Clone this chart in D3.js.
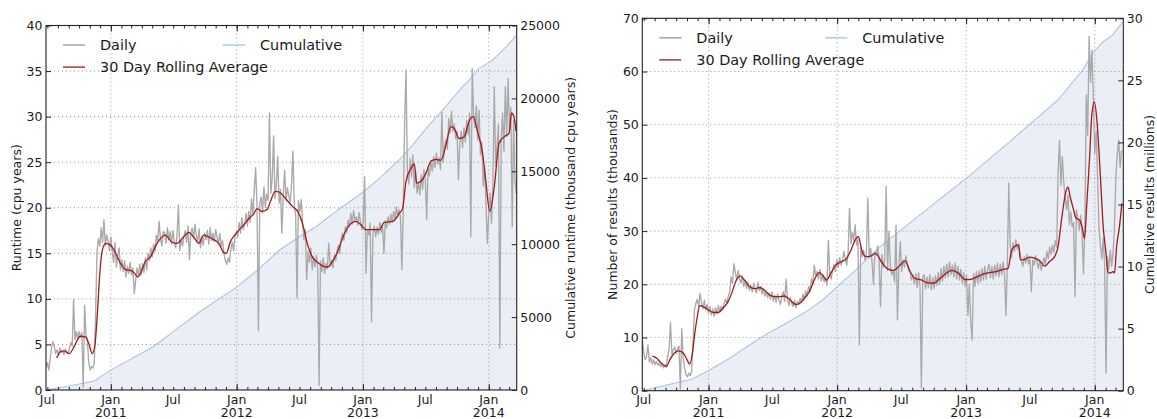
<!DOCTYPE html>
<html>
<head>
<meta charset="utf-8">
<script src="https://cdn.jsdelivr.net/npm/d3@7/dist/d3.min.js"></script>
<style>
  html, body { margin: 0; padding: 0; background: #ffffff; }
  svg { display: block; }
</style>
</head>
<body>
<svg id="chart" width="1157" height="419"></svg>
<script>
// ---- Time base: every day index below counts days from seriesStart ----
const seriesStart = new Date(Date.UTC(2010, 5, 27));
const seriesEnd = new Date(Date.UTC(2014, 2, 23));
const dailyStepDays = 4;   // one daily sample every 4 days

// ---- Runtime (cpu years per day) ----
const runtimeDaily = [
  2.5, 3.0, 2.2, 3.4, 4.6, 5.3, 4.8, 4.0, 4.4, 3.8,
  4.6, 4.1, 4.3, 3.9, 4.5, 4.2, 4.0, 4.6, 5.2, 4.8,
  9.9, 5.5, 6.4, 5.6, 6.4, 5.8, 6.3, 0.3, 9.3, 6.0,
  5.4, 3.0, 2.2, 2.6, 2.4, 2.9, 8.5, 15.2, 16.6, 15.8,
  17.8, 16.2, 18.7, 15.8, 17.0, 16.4, 15.3, 16.8, 15.2, 14.0,
  16.2, 13.5, 14.8, 15.6, 13.2, 14.3, 13.0, 14.2, 12.4, 13.6,
  12.8, 14.0, 12.6, 13.4, 10.6, 12.0, 13.4, 12.5, 13.8, 12.6,
  13.9, 12.9, 14.5, 13.2, 15.0, 14.2, 15.6, 14.6, 16.0, 15.2,
  17.0, 16.3, 18.5, 16.6, 15.8, 17.4, 17.2, 16.1, 17.8, 16.5,
  17.4, 16.0, 17.5, 16.2, 15.6, 17.0, 20.3, 15.3, 16.5, 15.8,
  16.9, 17.5, 16.2, 18.0, 14.3, 17.2, 17.8, 16.6, 18.2, 17.0,
  16.2, 17.7, 15.6, 16.8, 15.9, 17.2, 16.5, 17.5, 16.0, 17.8,
  16.4, 17.2, 16.3, 17.6, 16.8, 16.0, 17.2, 15.8, 16.4, 15.0,
  14.2, 13.8, 14.5, 14.0, 15.4, 16.2, 15.3, 16.8, 17.4, 16.8,
  18.4, 17.2, 18.9, 17.6, 18.2, 19.4, 18.0, 19.6, 18.4, 21.0,
  19.2, 22.0, 24.4, 20.1, 6.5, 20.5, 21.2, 19.4, 22.3, 20.0,
  21.5, 20.8, 30.4, 21.6, 23.2, 27.9, 21.0, 22.6, 25.6, 20.5,
  22.0, 17.2, 21.4, 24.1, 20.8, 22.2, 21.3, 20.6, 22.4, 26.2,
  20.4, 19.2, 10.1, 20.8, 19.6, 20.9, 18.4, 16.5, 17.6, 12.1,
  15.2, 14.0, 15.6, 13.2, 14.6, 13.5, 14.8, 13.4, 0.5, 14.2,
  13.0, 14.5, 12.8, 13.9, 13.3, 16.1, 13.6, 14.2, 13.4, 14.8,
  14.2, 15.3, 15.9, 15.0, 16.6, 17.2, 16.4, 17.9, 17.3, 18.6,
  18.0, 19.4, 18.2, 19.7, 18.6, 19.0, 18.1, 19.5, 18.4, 17.6,
  18.5, 23.4, 12.8, 17.6, 17.0, 18.3, 7.5, 17.2, 18.0, 16.8,
  17.9, 17.1, 18.4, 17.3, 18.0, 15.0, 18.6, 17.8, 19.0, 18.2,
  19.3, 18.4, 19.6, 18.8, 20.1, 19.0, 19.8, 18.9, 13.2, 19.6,
  29.3, 35.1, 24.0, 22.6, 25.4, 23.4, 25.8, 22.2, 24.0, 21.6,
  22.8, 21.4, 23.6, 22.0, 24.2, 23.0, 18.7, 24.4, 23.5, 25.2,
  24.0, 25.6, 24.4, 26.0, 24.8, 25.5, 24.2, 30.5, 25.0, 26.8,
  27.5, 26.4, 29.8, 28.2, 30.6, 28.4, 29.2, 27.6, 28.4, 23.1,
  27.0, 28.4, 26.6, 28.8, 27.2, 29.6, 28.0, 30.4, 16.8, 35.3,
  30.2, 28.8, 31.2, 27.4, 30.7, 25.8, 27.2, 22.4, 24.6, 20.2,
  16.1, 19.4, 21.6, 18.3, 22.8, 33.3, 24.6, 26.8, 29.2, 4.6,
  27.4, 30.4, 26.2, 33.3, 27.8, 34.2, 28.4, 31.0, 17.9, 29.6,
  23.0, 21.5
];
const runtimeAvgDay = [
  31, 42, 52, 67, 81, 91, 100, 115, 124, 134,
  141, 149, 156, 163, 173, 187, 202, 216, 231, 247,
  257, 266, 274, 288, 303, 322, 346, 366, 380, 399,
  414, 428, 443, 457, 472, 486, 501, 515, 523, 534,
  554, 573, 588, 602, 612, 626, 641, 650, 665, 677,
  697, 716, 730, 745, 759, 774, 788, 803, 817, 832,
  846, 861, 880, 899, 914, 928, 947, 967, 981, 1005,
  1025, 1034, 1044, 1058, 1068, 1075, 1087, 1102, 1116, 1131,
  1145, 1160, 1174, 1184, 1198, 1213, 1227, 1239, 1251, 1266,
  1275, 1287, 1300, 1314, 1329, 1343, 1350, 1357, 1363
];
const runtimeAvg = [
  3.5, 4.2, 4.3, 4.0, 4.7, 5.5, 5.9, 5.8, 5.1, 4.0,
  4.7, 8.4, 12.8, 15.3, 16.1, 15.9, 15.0, 13.9, 13.2, 13.1,
  12.8, 12.4, 12.8, 14.1, 14.6, 16.1, 17.0, 16.2, 16.1, 16.8,
  17.3, 16.8, 16.1, 17.0, 16.8, 16.5, 16.1, 15.1, 15.0, 16.2,
  17.3, 18.1, 18.8, 19.3, 19.9, 19.6, 19.8, 20.6, 21.8, 21.7,
  20.9, 20.1, 19.6, 18.1, 15.9, 14.5, 14.0, 13.6, 13.5, 14.2,
  15.2, 16.8, 18.1, 18.5, 18.1, 17.6, 17.6, 17.6, 18.4, 18.5,
  19.4, 19.9, 22.9, 24.3, 24.8, 22.7, 22.9, 23.8, 25.1, 25.3,
  25.2, 26.9, 28.9, 28.7, 27.6, 27.8, 29.5, 30.0, 28.4, 26.0,
  23.1, 19.6, 22.3, 27.1, 27.8, 28.2, 30.4, 30.0, 28.4
];
const runtimeCumDay = [
  0, 40, 92, 140, 185, 311, 369, 446, 552, 619,
  677, 735, 783, 846, 918, 967, 1034, 1063, 1111, 1150,
  1208, 1227, 1256, 1280, 1295, 1324, 1353, 1363
];
const runtimeCum = [
  0, 160, 400, 620, 1330, 2970, 4000, 5370, 7040, 8340,
  9600, 10510, 11200, 12350, 13550, 14520, 16000, 16800, 18180, 19200,
  20800, 21260, 22060, 22400, 22630, 23300, 24000, 24350
];

// ---- Results (thousands per day, cumulative in millions) ----
const resultsDaily = [
  9.6, 7.2, 5.8, 6.4, 8.6, 5.4, 6.2, 5.0, 5.8, 4.9,
  5.5, 4.8, 5.2, 4.5, 5.0, 4.3, 4.8, 4.4, 6.5, 7.8,
  12.8, 6.8, 7.6, 8.2, 7.0, 7.9, 8.4, 0.3, 11.7, 6.2,
  4.2, 3.0, 2.6, 3.3, 2.8, 3.6, 9.0, 15.2, 16.4, 17.2,
  15.8, 18.3, 16.6, 15.4, 17.0, 15.2, 16.2, 14.6, 15.8, 14.2,
  15.4, 14.0, 15.6, 14.4, 16.0, 14.8, 15.9, 15.2, 16.4, 17.2,
  16.4, 17.8, 18.6, 21.4, 20.2, 23.9, 22.2, 20.8, 22.6, 21.0,
  20.2, 21.5, 19.6, 20.6, 19.2, 20.4, 18.8, 19.8, 18.6, 20.2,
  19.0, 18.4, 20.4, 18.8, 19.6, 18.2, 19.1, 17.8, 18.6, 17.5,
  18.4, 17.2, 18.6, 16.8, 17.9, 16.6, 18.2, 17.0, 16.2, 17.8,
  18.6, 16.8, 21.0, 17.2, 16.0, 17.6, 16.4, 15.8, 17.0, 15.6,
  16.8, 16.2, 17.4, 16.6, 18.2, 17.0, 18.8, 17.8, 19.6, 18.6,
  21.0, 20.0, 23.6, 21.6, 22.4, 21.0, 22.8, 20.6, 21.8, 20.4,
  21.2, 19.8, 28.3, 22.0, 21.0, 22.6, 23.8, 22.4, 24.6, 23.2,
  25.0, 23.6, 24.4, 26.2, 24.8, 23.6, 25.8, 34.3, 27.6, 29.8,
  28.2, 31.2, 27.4, 28.6, 8.6, 27.0, 25.2, 26.4, 24.6, 25.8,
  36.2, 25.0, 26.8, 24.2, 20.0, 26.0, 25.4, 27.2, 24.6, 15.8,
  25.6, 23.2, 24.8, 38.4, 22.6, 30.0, 23.4, 21.8, 22.6, 20.4,
  31.1, 13.3, 23.0, 28.0, 22.4, 24.6, 23.2, 25.4, 23.8, 22.6,
  22.4, 20.8, 21.8, 20.0, 22.0, 19.4, 22.2, 19.8, 0.5, 21.4,
  21.8, 19.2, 21.4, 19.4, 21.8, 19.0, 21.2, 19.2, 21.6, 19.8,
  22.2, 20.0, 23.0, 20.6, 23.4, 21.2, 23.8, 21.4, 24.2, 21.8,
  23.6, 21.4, 24.0, 21.0, 23.4, 20.8, 22.8, 20.2, 22.2, 19.6,
  21.8, 14.2, 20.0, 13.0, 9.5, 22.0, 19.6, 22.4, 20.2, 22.6,
  20.4, 23.0, 20.8, 23.4, 21.0, 22.8, 23.8, 21.2, 23.4, 21.0,
  23.6, 21.6, 24.0, 21.4, 23.8, 21.8, 24.2, 22.0, 14.2, 24.0,
  39.0, 27.6, 25.0, 27.8, 26.2, 28.4, 26.6, 27.6, 25.8, 24.4,
  23.4, 25.2, 24.0, 25.6, 23.8, 25.0, 18.6, 24.6, 23.6, 25.4,
  24.2, 23.0, 24.6, 22.6, 23.8, 25.0, 23.6, 26.2, 24.8, 27.0,
  25.6, 27.4, 26.0, 28.2, 27.0, 41.0, 47.1, 38.6, 44.0, 39.2,
  36.4, 34.0, 36.8, 31.2, 33.6, 30.8, 31.6, 17.7, 34.0, 32.4,
  30.2, 33.0, 29.4, 22.0, 31.6, 55.6, 48.0, 66.6, 58.0, 64.0,
  55.0, 44.6, 48.8, 40.2, 30.6, 27.4, 24.8, 28.6, 23.6, 3.3,
  25.2, 22.8, 26.4, 23.4, 25.8, 31.0, 40.2, 44.6, 47.1, 42.0,
  45.2
];
const resultsAvgDay = [
  29, 41, 52, 69, 78, 90, 102, 116, 125, 135,
  142, 149, 156, 163, 173, 187, 201, 215, 229, 243,
  253, 267, 278, 290, 304, 319, 333, 347, 361, 375,
  389, 403, 417, 436, 446, 460, 474, 488, 502, 512,
  523, 535, 549, 563, 578, 592, 604, 613, 623, 634,
  648, 662, 680, 694, 713, 727, 746, 760, 774, 793,
  807, 826, 840, 859, 878, 897, 916, 930, 949, 967,
  986, 1005, 1024, 1038, 1048, 1057, 1068, 1073, 1085, 1099,
  1113, 1128, 1142, 1156, 1170, 1179, 1192, 1201, 1208, 1214,
  1224, 1231, 1241, 1248, 1255, 1261, 1269, 1276, 1283, 1290,
  1299, 1308, 1316, 1321, 1327, 1337, 1340, 1346, 1354, 1361
];
const resultsAvg = [
  6.5, 6.1, 5.3, 4.6, 5.8, 7.0, 7.5, 7.1, 6.1, 5.0,
  7.0, 10.8, 13.9, 16.0, 15.8, 15.2, 14.7, 14.7, 15.5, 16.7,
  18.2, 20.8, 21.6, 20.8, 19.6, 19.2, 19.4, 18.9, 18.0, 17.7,
  17.7, 17.8, 17.2, 16.2, 16.4, 17.4, 18.6, 20.8, 22.2, 21.7,
  20.8, 22.1, 23.6, 24.2, 24.7, 26.4, 28.3, 29.0, 26.4, 25.2,
  25.3, 25.8, 24.1, 23.0, 22.6, 23.3, 24.4, 22.4, 21.1, 20.8,
  20.3, 20.2, 20.8, 21.9, 22.6, 22.1, 20.9, 20.9, 21.4, 21.9,
  22.2, 22.4, 22.8, 23.0, 26.4, 27.1, 27.4, 24.6, 24.7, 25.1,
  24.9, 24.4, 23.4, 24.3, 25.2, 26.8, 33.3, 37.1, 38.3, 36.5,
  34.0, 32.4, 32.1, 30.8, 28.6, 34.6, 43.4, 52.1, 54.3, 50.9,
  41.5, 30.8, 25.8, 22.4, 22.1, 22.4, 22.1, 27.1, 30.8, 35.2
];
const resultsCumDay = [
  0, 69, 140, 182, 248, 333, 399, 465, 512, 559,
  606, 644, 668, 788, 916, 1043, 1179, 1250, 1278, 1307,
  1335, 1363
];
const resultsCum = [
  0, 0.46, 0.92, 1.53, 2.61, 4.22, 5.29, 6.37, 7.31, 8.52,
  9.73, 10.8, 11.45, 14.16, 17.03, 20.07, 23.4, 25.84, 27.19, 28.1,
  28.66, 29.7
];

// ---- Legend entries ----
const legendLabels = { daily: "Daily", avg: "30 Day Rolling Average", cum: "Cumulative" };

// ---- Styling ----
const FONT = "'DejaVu Sans', 'Liberation Sans', sans-serif";
const TEXT_COLOR = "#1a1a1a";
const COLOR_DAILY = "#a9a9a9";
const COLOR_AVG = "#a3181c";
const COLOR_CUM = "#a9c4e4";
const COLOR_FILL = "#ebeff5";

const svg = d3.select("#chart");
const dayToDate = d => new Date(seriesStart.getTime() + d * 86400000);

function styleTicks(g) {
  g.attr("font-family", null).attr("font-size", null).attr("color", TEXT_COLOR);
  g.selectAll("text")
    .attr("font-family", FONT)
    .attr("font-size", 12.5)
    .attr("fill", TEXT_COLOR);
  g.selectAll("line").attr("stroke", "#222").attr("stroke-width", 1);
  g.select(".domain").remove();
}

function drawPanel(p, idx) {
  const x = d3.scaleUtc().domain([seriesStart, seriesEnd]).range([p.left, p.right]);
  const y = d3.scaleLinear().domain([0, p.yMax]).range([p.bottom, p.top]);
  const y2 = d3.scaleLinear().domain([0, p.y2Max]).range([p.bottom, p.top]);

  const root = svg.append("g");
  const clipId = "plot-clip-" + idx;
  root.append("clipPath").attr("id", clipId)
    .append("rect")
    .attr("x", p.left).attr("y", p.top)
    .attr("width", p.right - p.left).attr("height", p.bottom - p.top);

  const plot = root.append("g").attr("clip-path", `url(#${clipId})`);

  const cumPts = p.cumDay.map((d, i) => ({ date: dayToDate(d), v: p.cum[i] }));
  const dailyPts = p.daily.map((v, i) => ({ date: dayToDate(i * dailyStepDays), v }));
  const avgPts = p.avgDay.map((d, i) => ({ date: dayToDate(d), v: p.avg[i] }));

  // cumulative shaded area (right axis)
  plot.append("path").datum(cumPts)
    .attr("fill", COLOR_FILL)
    .attr("d", d3.area().x(d => x(d.date)).y0(y2(0)).y1(d => y2(d.v)));

  // grid
  const months = d3.utcMonth.range(d3.utcMonth.ceil(seriesStart), seriesEnd);
  const years = months.filter(m => m.getUTCMonth() === 0);
  const yTicks = d3.range(0, p.yMax + 1e-9, p.yStep);
  const y2Ticks = d3.range(0, p.y2Max + 1e-9, p.y2Step);

  const grid = plot.append("g")
    .attr("stroke", "#7a7a7a").attr("stroke-width", 0.8)
    .attr("stroke-dasharray", "1,3");
  grid.selectAll("line.h").data(yTicks).join("line").attr("class", "h")
    .attr("x1", p.left).attr("x2", p.right)
    .attr("y1", d => y(d)).attr("y2", d => y(d));
  grid.selectAll("line.v").data(years).join("line").attr("class", "v")
    .attr("x1", d => x(d)).attr("x2", d => x(d))
    .attr("y1", p.top).attr("y2", p.bottom);

  // cumulative line
  plot.append("path").datum(cumPts)
    .attr("fill", "none").attr("stroke", COLOR_CUM).attr("stroke-width", 1.1)
    .attr("d", d3.line().x(d => x(d.date)).y(d => y2(d.v)));

  // daily line
  plot.append("path").datum(dailyPts)
    .attr("fill", "none").attr("stroke", COLOR_DAILY).attr("stroke-width", 1.35)
    .attr("stroke-linejoin", "round")
    .attr("d", d3.line().x(d => x(d.date)).y(d => y(d.v)));

  // rolling average
  plot.append("path").datum(avgPts)
    .attr("fill", "none").attr("stroke", COLOR_AVG).attr("stroke-width", 1.3)
    .attr("stroke-linejoin", "round")
    .attr("d", d3.line().curve(d3.curveMonotoneX).x(d => x(d.date)).y(d => y(d.v)));

  // axes: ticks point inward
  root.append("g").attr("transform", `translate(0,${p.bottom})`)
    .call(d3.axisBottom(x).tickValues(months).tickSizeInner(-3).tickSizeOuter(0).tickFormat(() => ""))
    .call(styleTicks);
  root.append("g").attr("transform", `translate(0,${p.bottom})`)
    .call(d3.axisBottom(x).tickValues(years).tickSizeInner(-6).tickSizeOuter(0).tickFormat(() => ""))
    .call(styleTicks);
  root.append("g").attr("transform", `translate(0,${p.top})`)
    .call(d3.axisTop(x).tickValues(months).tickSizeInner(-3).tickSizeOuter(0).tickFormat(() => ""))
    .call(styleTicks);
  root.append("g").attr("transform", `translate(0,${p.top})`)
    .call(d3.axisTop(x).tickValues(years).tickSizeInner(-6).tickSizeOuter(0).tickFormat(() => ""))
    .call(styleTicks);

  root.append("g").attr("transform", `translate(${p.left},0)`)
    .call(d3.axisLeft(y).tickValues(yTicks).tickSizeInner(-5).tickSizeOuter(0).tickPadding(3.5).tickFormat(d3.format("d")))
    .call(styleTicks);
  root.append("g").attr("transform", `translate(${p.right},0)`)
    .call(d3.axisRight(y2).tickValues(y2Ticks).tickSizeInner(-5).tickSizeOuter(0).tickPadding(3.5).tickFormat(d3.format("d")))
    .call(styleTicks);

  // month / year labels
  const labelMonths = months.filter(m => m.getUTCMonth() === 6 || m.getUTCMonth() === 0);
  const xl = root.append("g").attr("font-family", FONT).attr("font-size", 12.5)
    .attr("fill", TEXT_COLOR).attr("text-anchor", "middle");
  labelMonths.forEach(m => {
    xl.append("text").attr("x", x(m)).attr("y", 403.6)
      .text(m.getUTCMonth() === 0 ? "Jan" : "Jul");
    if (m.getUTCMonth() === 0) {
      xl.append("text").attr("x", x(m)).attr("y", 417)
        .text(String(m.getUTCFullYear()));
    }
  });

  // frame
  root.append("rect")
    .attr("x", p.left).attr("y", p.top)
    .attr("width", p.right - p.left).attr("height", p.bottom - p.top)
    .attr("fill", "none").attr("stroke", "#222").attr("stroke-width", 1.1);

  // axis titles
  const midY = (p.top + p.bottom) / 2;
  root.append("text")
    .attr("transform", `translate(${p.yLabelX},${midY}) rotate(-90)`)
    .attr("text-anchor", "middle").attr("font-family", FONT).attr("font-size", 12.5)
    .attr("fill", TEXT_COLOR).text(p.yLabel);
  root.append("text")
    .attr("transform", `translate(${p.y2LabelX},${midY}) rotate(-90)`)
    .attr("text-anchor", "middle").attr("font-family", FONT).attr("font-size", 12.5)
    .attr("fill", TEXT_COLOR).text(p.y2Label);

  // legend (two columns, no frame)
  const lg = root.append("g").attr("font-family", FONT).attr("font-size", 14.4).attr("fill", TEXT_COLOR);
  const row1 = p.top + 19.5, row2 = p.top + 41.6;
  const entries = [
    { key: "daily", color: COLOR_DAILY, x: p.left + 17, y: row1, w: 1.6 },
    { key: "avg", color: COLOR_AVG, x: p.left + 17, y: row2, w: 1.3 },
    { key: "cum", color: COLOR_CUM, x: p.left + p.legendCol2, y: row1, w: 1.4 }
  ];
  entries.forEach(e => {
    lg.append("line").attr("x1", e.x).attr("x2", e.x + 22)
      .attr("y1", e.y).attr("y2", e.y)
      .attr("stroke", e.color).attr("stroke-width", e.w);
    lg.append("text").attr("x", e.x + 37).attr("y", e.y + 5.3).text(legendLabels[e.key]);
  });
}

const panels = [
  {
    left: 46, right: 516.7, top: 25.5, bottom: 390,
    daily: runtimeDaily, avgDay: runtimeAvgDay, avg: runtimeAvg,
    cumDay: runtimeCumDay, cum: runtimeCum,
    yMax: 40, yStep: 5, y2Max: 25000, y2Step: 5000,
    yLabel: "Runtime (cpu years)", y2Label: "Cumulative runtime (thousand cpu years)",
    yLabelX: 20.5, y2LabelX: 575, legendCol2: 177
  },
  {
    left: 642.3, right: 1123.3, top: 18.3, bottom: 390.7,
    daily: resultsDaily, avgDay: resultsAvgDay, avg: resultsAvg,
    cumDay: resultsCumDay, cum: resultsCum,
    yMax: 70, yStep: 10, y2Max: 30, y2Step: 5,
    yLabel: "Number of results (thousands)", y2Label: "Cumulative results (millions)",
    yLabelX: 616.5, y2LabelX: 1153.5, legendCol2: 183
  }
];

panels.forEach(drawPanel);
</script>
</body>
</html>
